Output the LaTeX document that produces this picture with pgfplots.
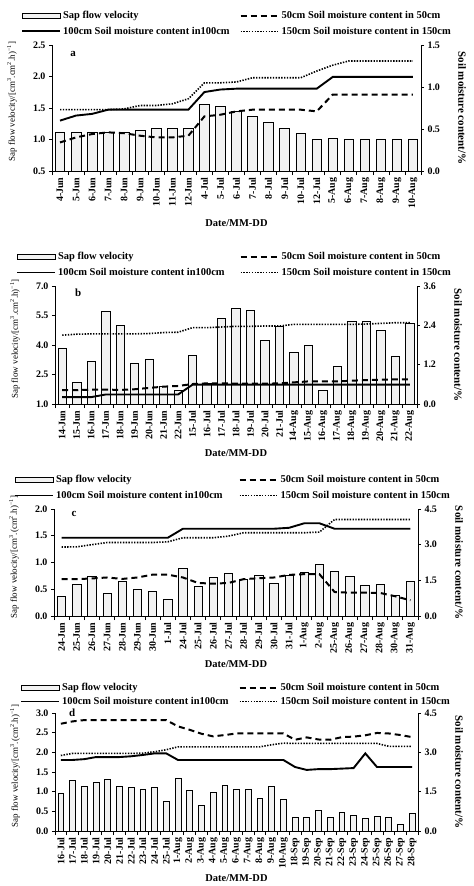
\documentclass[border=0pt]{standalone}
\usepackage{fontspec}
\setmainfont{Liberation Serif}
\usepackage{pgfplots}
\usepackage{pgfplotstable}
\pgfplotsset{compat=1.18}
\definecolor{barfill}{HTML}{F2F2F2}

% columns: date, sap flow velocity, soil moisture at 50/100/150 cm
\pgfplotstableread{
date sap m50 m100 m150
4-Jun 1.12 0.34 0.60 0.73
5-Jun 1.12 0.40 0.66 0.73
6-Jun 1.12 0.44 0.68 0.73
7-Jun 1.12 0.46 0.73 0.73
8-Jun 1.12 0.45 0.73 0.74
9-Jun 1.15 0.42 0.73 0.78
10-Jun 1.17 0.40 0.73 0.78
11-Jun 1.18 0.40 0.73 0.80
12-Jun 1.18 0.42 0.73 0.86
4-Jul 1.56 0.65 0.94 1.05
5-Jul 1.53 0.67 0.97 1.05
6-Jul 1.45 0.71 0.98 1.06
7-Jul 1.36 0.73 0.98 1.11
8-Jul 1.27 0.73 0.98 1.11
9-Jul 1.18 0.73 0.98 1.11
10-Jul 1.09 0.73 0.98 1.11
12-Jul 1.00 0.71 0.98 1.19
5-Aug 1.02 0.91 1.12 1.26
6-Aug 1.01 0.91 1.12 1.31
7-Aug 1.01 0.91 1.12 1.31
8-Aug 1.01 0.91 1.12 1.31
9-Aug 1.01 0.91 1.12 1.31
10-Aug 1.01 0.91 1.12 1.31
}\tA

\pgfplotstableread{
date sap m50 m100 m150
14-Jun 3.85 0.42 0.21 2.10
15-Jun 2.08 0.42 0.21 2.13
16-Jun 3.17 0.44 0.21 2.14
17-Jun 5.71 0.44 0.29 2.14
18-Jun 4.98 0.43 0.29 2.14
19-Jun 3.08 0.45 0.29 2.14
20-Jun 3.29 0.49 0.29 2.15
21-Jun 1.88 0.53 0.29 2.18
22-Jun 1.68 0.55 0.29 2.19
15-Jul 3.47 0.61 0.59 2.33
16-Jul 2.05 0.63 0.59 2.33
17-Jul 5.36 0.63 0.59 2.35
18-Jul 5.85 0.62 0.59 2.37
19-Jul 5.75 0.62 0.59 2.37
20-Jul 4.22 0.62 0.59 2.38
21-Jul 4.97 0.63 0.59 2.38
14-Aug 3.64 0.66 0.59 2.43
15-Aug 4.00 0.69 0.59 2.43
16-Aug 1.71 0.69 0.59 2.43
17-Aug 2.92 0.69 0.59 2.43
18-Aug 5.22 0.71 0.59 2.43
19-Aug 5.19 0.73 0.59 2.44
20-Aug 4.76 0.74 0.59 2.46
21-Aug 3.41 0.75 0.59 2.48
22-Aug 5.08 0.75 0.59 2.48
}\tB

\pgfplotstableread{
date sap m50 m100 m150
24-Jun 0.37 1.55 3.29 2.90
25-Jun 0.59 1.55 3.29 2.91
26-Jun 0.74 1.58 3.29 3.00
27-Jun 0.42 1.62 3.29 3.09
28-Jun 0.64 1.56 3.29 3.09
29-Jun 0.50 1.62 3.29 3.09
30-Jun 0.46 1.74 3.29 3.09
1-Jul 0.31 1.74 3.29 3.12
24-Jul 0.89 1.62 3.67 3.29
25-Jul 0.56 1.39 3.67 3.29
26-Jul 0.72 1.36 3.67 3.29
27-Jul 0.79 1.39 3.67 3.36
28-Jul 0.68 1.55 3.67 3.50
29-Jul 0.76 1.59 3.67 3.50
30-Jul 0.61 1.62 3.67 3.50
31-Jul 0.76 1.73 3.71 3.50
1-Aug 0.81 1.76 3.90 3.50
2-Aug 0.96 1.76 3.90 3.53
25-Aug 0.83 1.01 3.67 4.06
26-Aug 0.74 0.98 3.67 4.06
27-Aug 0.58 0.98 3.67 4.06
28-Aug 0.59 0.97 3.67 4.06
30-Aug 0.39 0.83 3.67 4.06
31-Aug 0.64 0.66 3.67 4.06
}\tC

\pgfplotstableread{
date sap m50 m100 m150
16-Jul 0.97 4.09 2.71 2.88
17-Jul 1.28 4.18 2.71 2.96
18-Jul 1.14 4.23 2.74 2.96
19-Jul 1.24 4.23 2.82 2.96
20-Jul 1.31 4.23 2.82 2.96
21-Jul 1.13 4.23 2.82 2.96
22-Jul 1.11 4.23 2.85 2.96
23-Jul 1.07 4.23 2.90 2.97
24-Jul 1.11 4.23 2.96 3.02
25-Jul 0.75 4.23 2.96 3.10
1-Aug 1.35 3.99 2.71 3.21
2-Aug 1.04 3.86 2.71 3.21
3-Aug 0.64 3.71 2.71 3.21
4-Aug 0.98 3.61 2.71 3.21
5-Aug 1.16 3.66 2.71 3.21
6-Aug 1.05 3.72 2.71 3.21
7-Aug 1.05 3.72 2.71 3.21
8-Aug 0.83 3.72 2.71 3.21
9-Aug 1.14 3.72 2.71 3.29
10-Aug 0.81 3.72 2.71 3.35
18-Sep 0.36 3.48 2.44 3.34
19-Sep 0.36 3.57 2.33 3.34
20-Sep 0.53 3.49 2.36 3.34
21-Sep 0.34 3.48 2.36 3.34
22-Sep 0.47 3.58 2.38 3.34
23-Sep 0.40 3.60 2.40 3.34
24-Sep 0.31 3.65 2.96 3.34
25-Sep 0.38 3.74 2.44 3.34
26-Sep 0.36 3.72 2.44 3.23
27-Sep 0.16 3.66 2.44 3.23
28-Sep 0.45 3.58 2.44 3.23
}\tD

\pgfplotsset{
  base/.style={
    scale only axis, anchor=south west,
    xmin=-0.5,
    tick align=outside,
    axis line style={line width=0.7pt},
    tick style={black, line width=0.7pt},
    major tick length=3bp, minor tick length=4bp,
    yticklabel style={font=\fontsize{10}{12}\selectfont\bfseries},
    /pgf/number format/.cd, fixed, fixed zerofill, precision=1, assume math mode=true,
  },
  barax/.style={base,
    axis x line*=bottom, axis y line*=left,
    xtick=data, major x tick style={draw=none},
    xticklabel style={rotate=90, anchor=east, font=\fontsize{10}{12}\selectfont\bfseries},
    every axis y label/.style={at={([xshift=-40bp]axis description cs:0,0.55)}, rotate=90, anchor=center, font=\fontsize{9}{11}\selectfont},
    every axis x label/.style={at={([yshift=-52bp]axis description cs:0.5,0)}, anchor=center, font=\fontsize{10.5}{12}\selectfont\bfseries},
    xlabel={Date/MM-DD},
  },
  lineax/.style={base,
    axis x line=none, axis y line*=right,
    every axis y label/.style={at={([xshift=41bp]axis description cs:1,0.5)}, rotate=-90, anchor=center, font=\fontsize{11}{13}\selectfont\bfseries},
    ylabel={Soil moisture content/\%},
    legend columns=2,
    legend cell align=left,
    legend style={draw=none, fill=none, inner xsep=0pt, at={([xshift=-31bp,yshift=5bp]axis description cs:0,1)}, anchor=south west,
      font=\fontsize{10.5}{12.5}\selectfont\bfseries, row sep=3bp,
      /tikz/every even column/.append style={column sep=8bp}},
    legend image code/.code={\draw[##1] (0bp,0bp) -- (38bp,0bp);},
  },
  barsty/.style={ybar, draw=black, fill=barfill, line width=0.7pt, bar width=#1},
  s50/.style={black, line width=2pt, dash pattern=on 6bp off 4bp, mark=none},
  s100/.style={black, line width=1.9pt, mark=none},
  s150/.style={black, line width=1.6pt, dash pattern=on 1.4bp off 1.4bp, mark=none},
  barleg/.style={legend image code/.code={\draw[black, fill=barfill, line width=0.7pt] (0bp,-2.5bp) rectangle (38bp,2.5bp);}},
}

\begin{document}
\begin{tikzpicture}
\useasboundingbox (0,0) rectangle (474bp,-886bp);

% ---- panel a ----
\begin{axis}[barax, at={(52bp,-171bp)}, width=369bp, height=126bp,
  xmax=22.5, minor xtick={-0.5,0.5,...,22.5},
  ymin=0.5, ymax=2.5, ytick={0.5,1.0,...,2.5},
  xticklabels from table={\tA}{date},
  ylabel={Sap flow velocity/[cm\textsuperscript{3}.cm\textsuperscript{2}.h)\textsuperscript{−1}]}]
  \addplot[barsty=0.6] table[x expr=\coordindex, y=sap] {\tA};
  \node[font=\fontsize{11}{13}\selectfont\bfseries] at (rel axis cs:0.057,0.93) {a};
\end{axis}
\begin{axis}[lineax, at={(52bp,-171bp)}, width=369bp, height=126bp,
  xmax=22.5, ymin=0, ymax=1.5, ytick={0,0.5,1.0,1.5}]
  \addlegendimage{barleg}\addlegendentry{Sap flow velocity}
  \addplot[s50] table[x expr=\coordindex, y=m50] {\tA};
  \addlegendentry{50cm Soil moisture content in 50cm}
  \addplot[s100] table[x expr=\coordindex, y=m100] {\tA};
  \addlegendentry{100cm Soil moisture content in100cm}
  \addplot[s150] table[x expr=\coordindex, y=m150] {\tA};
  \addlegendentry{150cm Soil moisture content in 150cm}
\end{axis}

% ---- panel b ----
\begin{axis}[barax, at={(55bp,-404bp)}, width=362bp, height=118bp,
  xmax=24.5, minor xtick={-0.5,0.5,...,24.5},
  ymin=1, ymax=7, ytick={1.0,2.5,4.0,5.5,7.0},
  xticklabels from table={\tB}{date},
  every axis x label/.append style={yshift=3bp},
  ylabel={Sap flow velocity/[cm\textsuperscript{3}.cm\textsuperscript{2}.h)\textsuperscript{−1}]}]
  \addplot[barsty=0.58] table[x expr=\coordindex, y=sap] {\tB};
  \node[font=\fontsize{11}{13}\selectfont\bfseries] at (rel axis cs:0.064,0.94) {b};
\end{axis}
\begin{axis}[lineax, at={(55bp,-404bp)}, width=362bp, height=118bp,
  xmax=24.5, ymin=0, ymax=3.6, ytick={0,1.2,2.4,3.6},
  legend style={at={([xshift=-39bp,yshift=5bp]axis description cs:0,1)},
    /tikz/every even column/.append style={column sep=13bp}}]
  \addlegendimage{barleg}\addlegendentry{Sap flow velocity}
  \addplot[s50] table[x expr=\coordindex, y=m50] {\tB};
  \addlegendentry{50cm Soil moisture content in 50cm}
  \addplot[s100] table[x expr=\coordindex, y=m100] {\tB};
  \addlegendentry{100cm Soil moisture content in100cm}
  \addplot[s150] table[x expr=\coordindex, y=m150] {\tB};
  \addlegendentry{150cm Soil moisture content in 150cm}
\end{axis}

% ---- panel c ----
\begin{axis}[barax, at={(54bp,-616bp)}, width=364bp, height=107bp,
  xmax=23.5, minor xtick={-0.5,0.5,...,23.5},
  ymin=0, ymax=2, ytick={0,0.5,...,2.0},
  xticklabels from table={\tC}{date},
  every axis x label/.append style={yshift=4bp},
  ylabel={Sap flow velocity/[cm\textsuperscript{3}.(cm\textsuperscript{2}.h)\textsuperscript{−1}]}]
  \addplot[barsty=0.55] table[x expr=\coordindex, y=sap] {\tC};
  \node[font=\fontsize{11}{13}\selectfont\bfseries] at (rel axis cs:0.055,0.95) {c};
\end{axis}
\begin{axis}[lineax, at={(54bp,-616bp)}, width=364bp, height=107bp,
  xmax=23.5, ymin=0, ymax=4.5, ytick={0,1.5,3.0,4.5},
  legend style={at={([xshift=-40bp,yshift=5bp]axis description cs:0,1)},
    /tikz/every even column/.append style={column sep=14bp}}]
  \addlegendimage{barleg}\addlegendentry{Sap flow velocity}
  \addplot[s50] table[x expr=\coordindex, y=m50] {\tC};
  \addlegendentry{50cm Soil moisture content in 50cm}
  \addplot[s100] table[x expr=\coordindex, y=m100] {\tC};
  \addlegendentry{100cm Soil moisture content in100cm}
  \addplot[s150] table[x expr=\coordindex, y=m150] {\tC};
  \addlegendentry{150cm Soil moisture content in 150cm}
\end{axis}

% ---- panel d ----
\begin{axis}[barax, at={(55bp,-831bp)}, width=363bp, height=118bp,
  xmax=30.5, minor xtick={-0.5,0.5,...,30.5}, clip=false,
  ymin=0, ymax=3, ytick={0,0.5,...,3.0},
  xticklabels from table={\tD}{date},
  every axis x label/.append style={yshift=5bp},
  ylabel={Sap flow velocity/[cm\textsuperscript{3}.(cm\textsuperscript{2}.h)\textsuperscript{−1}]}]
  \addplot[barsty=0.5] table[x expr=\coordindex, y=sap] {\tD};
  \node[font=\fontsize{11}{13}\selectfont\bfseries] at (rel axis cs:0.047,1.0) {d};
\end{axis}
\begin{axis}[lineax, at={(55bp,-831bp)}, width=363bp, height=118bp,
  xmax=30.5, ymin=0, ymax=4.5, ytick={0,1.5,3.0,4.5},
  legend style={at={([xshift=-35bp,yshift=3bp]axis description cs:0,1)}, row sep=1bp}]
  \addlegendimage{barleg}\addlegendentry{Sap flow velocity}
  \addplot[s50] table[x expr=\coordindex, y=m50] {\tD};
  \addlegendentry{50cm Soil moisture content in 50cm}
  \addplot[s100] table[x expr=\coordindex, y=m100] {\tD};
  \addlegendentry{100cm Soil moisture content in100cm}
  \addplot[s150] table[x expr=\coordindex, y=m150] {\tD};
  \addlegendentry{150cm Soil moisture content in 150cm}
\end{axis}
\end{tikzpicture}
\end{document}
